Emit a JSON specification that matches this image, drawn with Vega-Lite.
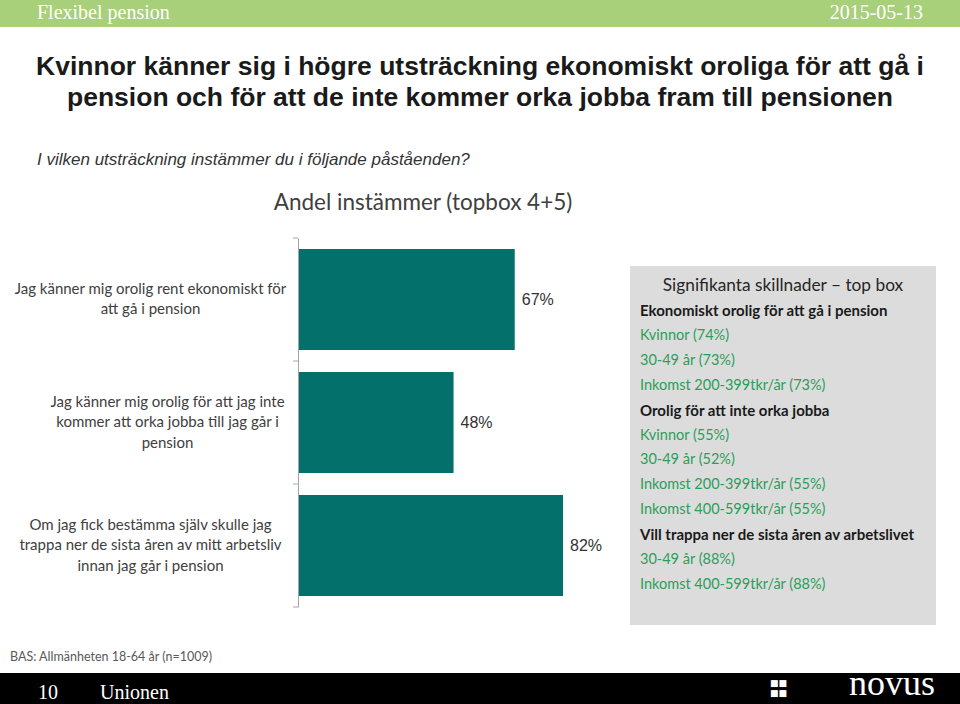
{
  "$schema": "https://vega.github.io/schema/vega-lite/v6.json",
  "width": 662,
  "height": 369,
  "autosize": {"type": "none"},
  "padding": {"left": 298, "top": 238, "right": 0, "bottom": 97},
  "background": "white",
  "config": {"view": {"stroke": null}},
  "datasets": {
    "bars": [
      {"cat": "Jag känner mig orolig rent ekonomiskt för|att gå i pension", "value": 0.67},
      {"cat": "Jag känner mig orolig för att jag inte|kommer att orka jobba till jag går i|pension", "value": 0.48},
      {"cat": "Om jag fick bestämma själv skulle jag|trappa ner de sista åren av mitt arbetsliv|innan jag går i pension", "value": 0.82}
    ],
    "bounds": [{"b": 0}, {"b": 1}, {"b": 2}, {"b": 3}],
    "box": [
      {"line": 0, "kind": "head", "text": "Signifikanta skillnader – top box"},
      {"line": 1, "kind": "bold", "text": "Ekonomiskt orolig för att gå i pension"},
      {"line": 2, "kind": "green", "text": "Kvinnor (74%)"},
      {"line": 3, "kind": "green", "text": "30-49 år (73%)"},
      {"line": 4, "kind": "green", "text": "Inkomst 200-399tkr/år (73%)"},
      {"line": 5, "kind": "bold", "text": "Orolig för att inte orka jobba"},
      {"line": 6, "kind": "green", "text": "Kvinnor (55%)"},
      {"line": 7, "kind": "green", "text": "30-49 år (52%)"},
      {"line": 8, "kind": "green", "text": "Inkomst 200-399tkr/år (55%)"},
      {"line": 9, "kind": "green", "text": "Inkomst 400-599tkr/år (55%)"},
      {"line": 10, "kind": "bold", "text": "Vill trappa ner de sista åren av arbetslivet"},
      {"line": 11, "kind": "green", "text": "30-49 år (88%)"},
      {"line": 12, "kind": "green", "text": "Inkomst 400-599tkr/år (88%)"}
    ]
  },
  "layer": [
    {
      "data": {"values": [{}]},
      "mark": {"type": "rect", "fill": "#a8cf7a"},
      "encoding": {"x": {"value": -298}, "x2": {"value": 662}, "y": {"value": -238}, "y2": {"value": -211}}
    },
    {
      "data": {"values": [{}]},
      "mark": {"type": "text", "text": "Flexibel pension", "font": "Liberation Serif", "fontSize": 20, "color": "white", "align": "left", "baseline": "alphabetic"},
      "encoding": {"x": {"value": -261}, "y": {"value": -219}}
    },
    {
      "data": {"values": [{}]},
      "mark": {"type": "text", "text": "2015-05-13", "font": "Liberation Serif", "fontSize": 20, "color": "white", "align": "right", "baseline": "alphabetic"},
      "encoding": {"x": {"value": 625}, "y": {"value": -219}}
    },
    {
      "data": {"values": [{}]},
      "mark": {"type": "text", "text": ["Kvinnor känner sig i högre utsträckning ekonomiskt oroliga för att gå i", "pension och för att de inte kommer orka jobba fram till pensionen"], "font": "Liberation Sans", "fontSize": 26.5, "fontWeight": "bold", "lineHeight": 31, "color": "#1a1a1a", "align": "center", "baseline": "alphabetic"},
      "encoding": {"x": {"value": 182}, "y": {"value": -163}}
    },
    {
      "data": {"values": [{}]},
      "mark": {"type": "text", "text": "I vilken utsträckning instämmer du i följande påståenden?", "font": "Liberation Sans", "fontSize": 17, "fontStyle": "italic", "color": "#333333", "align": "left", "baseline": "alphabetic"},
      "encoding": {"x": {"value": -261}, "y": {"value": -73}}
    },
    {
      "data": {"values": [{}]},
      "mark": {"type": "text", "text": "Andel instämmer (topbox 4+5)", "font": "Lato", "fontSize": 22.5, "color": "#404040", "align": "center", "baseline": "alphabetic"},
      "encoding": {"x": {"value": 125}, "y": {"value": -28}}
    },
    {
      "data": {"name": "bars"},
      "layer": [
        {
          "mark": {"type": "bar", "color": "#03706b"},
          "encoding": {
            "y": {
              "field": "cat", "type": "nominal", "sort": null,
              "scale": {"paddingInner": 0.18, "paddingOuter": 0.09},
              "axis": {
                "title": null, "ticks": false, "domainColor": "#a6a6a6", "domainWidth": 1,
                "labelExpr": "split(datum.label, '|')", "labelAlign": "center", "labelBaseline": "middle",
                "labelPadding": {"condition": {"test": "indexof(datum.value, 'inte') >= 0", "value": 131}, "value": 148},
                "labelOffset": {"condition": {"test": "indexof(datum.value, 'att gå i pension') >= 0", "value": -11}, "value": -21},
                "labelLimit": 400, "labelLineHeight": 20.5,
                "labelFont": "Lato", "labelFontSize": 15, "labelColor": "#404040"
              }
            },
            "x": {"field": "value", "type": "quantitative", "scale": {"domain": [0, 1], "range": [1, 323]}, "axis": null}
          }
        },
        {
          "mark": {"type": "text", "align": "left", "baseline": "middle", "dx": 7, "font": "Liberation Sans", "fontSize": 16, "color": "#333333"},
          "encoding": {
            "y": {"field": "cat", "type": "nominal", "sort": null},
            "x": {"field": "value", "type": "quantitative"},
            "text": {"field": "value", "type": "quantitative", "format": ".0%"}
          }
        }
      ]
    },
    {
      "data": {"name": "bounds"},
      "mark": {"type": "rule", "color": "#a6a6a6", "strokeWidth": 1},
      "encoding": {
        "y": {"field": "b", "type": "quantitative", "scale": {"domain": [0, 3], "range": [0, 369], "zero": false, "nice": false}, "axis": null},
        "x": {"value": -5},
        "x2": {"value": 0}
      }
    },
    {
      "data": {"values": [{}]},
      "mark": {"type": "rect", "fill": "#dcdcdc"},
      "encoding": {"x": {"value": 332}, "x2": {"value": 638}, "y": {"value": 28}, "y2": {"value": 387}}
    },
    {
      "data": {"name": "box"},
      "transform": [{"filter": "datum.kind == 'head'"}],
      "mark": {"type": "text", "align": "center", "baseline": "middle", "font": "Lato", "fontSize": 17.3, "color": "#262626"},
      "encoding": {
        "y": {"field": "line", "type": "quantitative", "scale": {"domain": [1, 12], "range": [73, 347], "zero": false, "nice": false}, "axis": null},
        "x": {"value": 485},
        "text": {"field": "text", "type": "nominal"}
      }
    },
    {
      "data": {"name": "box"},
      "transform": [{"filter": "datum.kind == 'bold'"}],
      "mark": {"type": "text", "align": "left", "baseline": "middle", "font": "Lato", "fontSize": 15, "fontWeight": "bold", "color": "#1a1a1a"},
      "encoding": {
        "y": {"field": "line", "type": "quantitative", "scale": {"domain": [1, 12], "range": [73, 347], "zero": false, "nice": false}, "axis": null},
        "x": {"value": 342},
        "text": {"field": "text", "type": "nominal"}
      }
    },
    {
      "data": {"name": "box"},
      "transform": [{"filter": "datum.kind == 'green'"}],
      "mark": {"type": "text", "align": "left", "baseline": "middle", "font": "Lato", "fontSize": 14.5, "color": "#2b9e5a"},
      "encoding": {
        "y": {"field": "line", "type": "quantitative", "scale": {"domain": [1, 12], "range": [73, 347], "zero": false, "nice": false}, "axis": null},
        "x": {"value": 342},
        "text": {"field": "text", "type": "nominal"}
      }
    },
    {
      "data": {"values": [{}]},
      "mark": {"type": "text", "text": "BAS: Allmänheten 18-64 år (n=1009)", "font": "Lato", "fontSize": 12.5, "color": "#595959", "align": "left", "baseline": "middle"},
      "encoding": {"x": {"value": -288}, "y": {"value": 419}}
    },
    {
      "data": {"values": [{}]},
      "mark": {"type": "rect", "fill": "#000000"},
      "encoding": {"x": {"value": -298}, "x2": {"value": 662}, "y": {"value": 435}, "y2": {"value": 466}}
    },
    {
      "data": {"values": [{}]},
      "mark": {"type": "text", "text": "10", "font": "Liberation Serif", "fontSize": 20, "color": "white", "align": "left", "baseline": "alphabetic"},
      "encoding": {"x": {"value": -260}, "y": {"value": 461}}
    },
    {
      "data": {"values": [{}]},
      "mark": {"type": "text", "text": "Unionen", "font": "Liberation Serif", "fontSize": 20, "color": "white", "align": "left", "baseline": "alphabetic"},
      "encoding": {"x": {"value": -198}, "y": {"value": 461}}
    },
    {
      "data": {"values": [{}]},
      "mark": {"type": "text", "text": "novus", "font": "Liberation Serif", "fontSize": 36, "color": "white", "align": "right", "baseline": "bottom"},
      "encoding": {"x": {"value": 637}, "y": {"value": 465}}
    },
    {
      "data": {"values": [{}]},
      "mark": {"type": "text", "text": ["■■", "■■"], "font": "DejaVu Sans", "fontSize": 9, "lineHeight": 10, "color": "white", "align": "left", "baseline": "top"},
      "encoding": {"x": {"value": 472}, "y": {"value": 441}}
    }
  ],
  "resolve": {"scale": {"y": "independent"}}
}
